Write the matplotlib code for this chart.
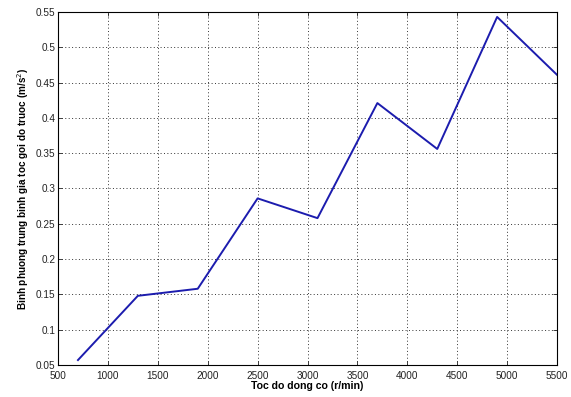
import numpy as np
import matplotlib
matplotlib.use("Agg")
import matplotlib.pyplot as plt

# engine speed (r/min) and RMS acceleration at front bearing (m/s^2)
speed = [700, 1300, 1900, 2500, 3100, 3700, 4300, 4900, 5500]
accel_rms = [0.057, 0.148, 0.158, 0.286, 0.258, 0.421, 0.356, 0.543, 0.461]

x_ticks = [500, 1000, 1500, 2000, 2500, 3000, 3500, 4000, 4500, 5000, 5500]
y_ticks = [0.05, 0.1, 0.15, 0.2, 0.25, 0.3, 0.35, 0.4, 0.45, 0.5, 0.55]
y_tick_labels = ["0.05", "0.1", "0.15", "0.2", "0.25", "0.3", "0.35", "0.4", "0.45", "0.5", "0.55"]


def main():
    plt.rcParams["font.family"] = ["Liberation Sans", "DejaVu Sans"]
    fig = plt.figure(figsize=(5.71, 3.97), dpi=100)
    ax = fig.add_axes([0.1016, 0.0806, 0.8739, 0.8892])

    ax.plot(speed, accel_rms, color="#1c1cae", linewidth=1.4)

    ax.set_xlim(500, 5500)
    ax.set_ylim(0.05, 0.55)
    ax.set_xticks(x_ticks)
    ax.set_yticks(y_ticks)
    ax.set_yticklabels(y_tick_labels)
    ax.tick_params(direction="in", top=True, right=True, labelsize=7.2,
                   length=3, width=0.6, pad=2, colors="#222222")
    ax.tick_params(axis="x", pad=4)
    ax.grid(True, linestyle=(0, (1, 2.5)), color="#333333", linewidth=0.7)
    for s in ax.spines.values():
        s.set_linewidth(0.8)

    ax.set_xlabel("Toc do dong co (r/min)", fontsize=7.6, fontweight="bold", labelpad=0)
    ax.set_ylabel("Binh phuong trung binh gia toc goi do truoc (m/s$^2$)",
                  fontsize=7.2, fontweight="bold", labelpad=3)

    fig.savefig("out.png", dpi=100)


if __name__ == "__main__":
    main()
